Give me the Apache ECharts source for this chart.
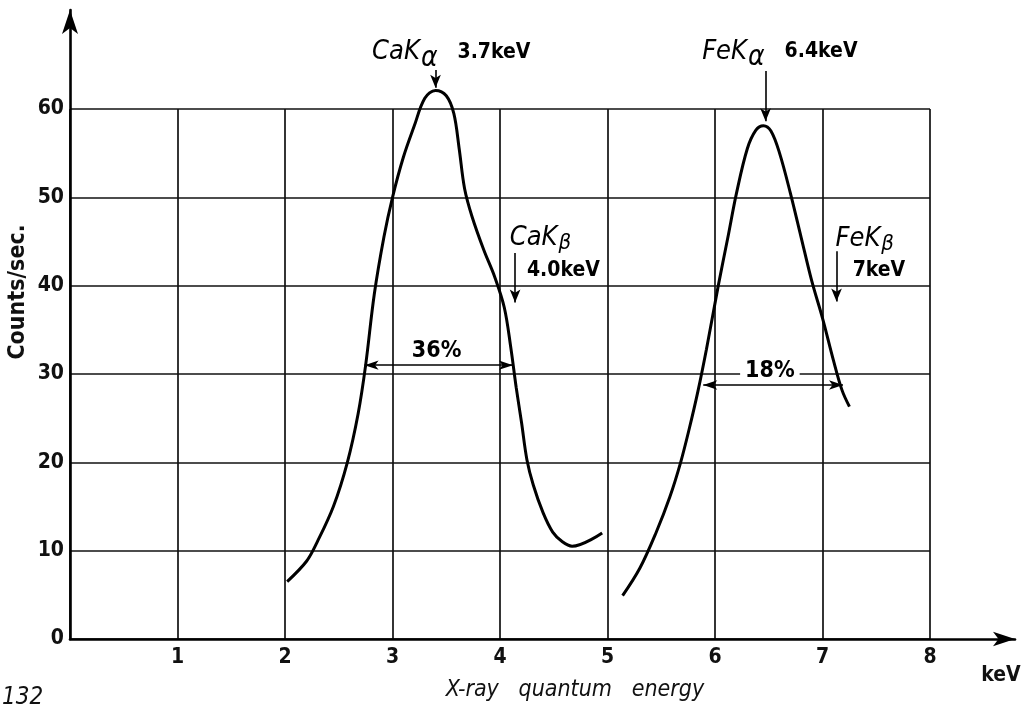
<!DOCTYPE html>
<html><head><meta charset="utf-8">
<script src="https://cdn.jsdelivr.net/npm/echarts@6/dist/echarts.min.js"></script>
<style>html,body{margin:0;padding:0;background:#fff}#c{width:1036px;height:704px}</style>
</head><body><div id="c"></div>
<script>
// ---- data ----
const caEnergy = [2.02,2.20,2.30,2.45,2.58,2.68,2.75,2.83,2.92,3.00,3.10,3.20,3.30,3.40,3.50,3.57,3.62,3.67,3.74,3.85,3.95,4.04,4.10,4.15,4.20,4.25,4.31,4.40,4.49,4.58,4.67,4.95];
const caCounts = [6.5,8.8,11.0,15.0,20.0,25.5,31.0,39.0,45.5,50.0,54.5,58.0,61.2,62.1,61.5,59.5,55.5,51.0,47.8,44.0,41.0,37.5,33.0,28.5,24.5,20.3,17.4,14.3,12.1,11.0,10.5,12.0];
const feEnergy = [5.14,5.30,5.45,5.58,5.68,5.76,5.84,5.92,6.03,6.12,6.20,6.30,6.38,6.45,6.52,6.60,6.70,6.80,6.90,7.00,7.10,7.18,7.25];
const feCounts = [4.9,8.0,12.0,16.1,20.0,23.8,28.0,32.8,40.0,45.5,50.5,55.5,57.6,58.1,57.5,55.0,50.5,45.5,40.5,36.3,31.6,28.2,26.3];
const xTickLabels = [1,2,3,4,5,6,7,8];
const yTickLabels = [0,10,20,30,40,50,60];
// line markers: energy, arrow start count, arrow end count
const lineMarkEnergy = [3.40, 6.47, 4.14, 7.13];
const lineMarkFrom = [64.4, 64.3, 43.7, 43.9];
const lineMarkTo = [62.4, 58.6, 38.1, 38.2];
// resolution (FWHM) arrows: count level, left energy, right energy
const fwhmLevel = [31.0, 28.75];
const fwhmLeft = [2.74, 5.89];
const fwhmRight = [4.12, 7.19];
const fwhmText = ['36%', '18%'];
// annotation texts and their anchor points (energy, counts)
const noteText = ['{k|CaK}{a|α}{ep|3.7keV}', '{k|FeK}{a|α}{ep|6.4keV}', '{k|CaK}{b|β}', '{e|4.0keV}', '{k|FeK}{b|β}', '{e|7keV}'];
const noteX = [2.81, 5.88, 4.09, 4.25, 7.12, 7.28];
const noteY = [66.4, 66.5, 45.4, 41.7, 45.3, 41.7];
const fwhmTextX = [3.41, 6.51];
const fwhmTextY = [32.6, 30.3];

const FONT = "'DejaVu Sans Condensed','DejaVu Sans',sans-serif";
const chart = echarts.init(document.getElementById('c'));

const noteData = noteText.map((t, i) => ({
  value: [noteX[i], noteY[i]],
  label: { show: true, position: 'right', distance: 0, formatter: t }
})).concat(fwhmText.map((t, i) => ({
  value: [fwhmTextX[i], fwhmTextY[i]],
  label: { show: true, position: 'inside', formatter: i === 1 ? '{pw|' + t + '}' : '{p|' + t + '}' }
})));

const markLines = lineMarkEnergy.map((x, i) => [
  { coord: [x, lineMarkFrom[i]], symbol: 'none' },
  { coord: [x, lineMarkTo[i]], symbol: 'arrow', symbolSize: [8, 13] }
]).concat(fwhmLevel.map((y, i) => [
  { coord: [fwhmLeft[i], y], symbol: 'arrow', symbolSize: [7, 14] },
  { coord: [fwhmRight[i], y], symbol: 'arrow', symbolSize: [7, 14] }
]));

const option = {
  animation: false,
  backgroundColor: '#fff',
  grid: [
    { left: 70, top: 109, width: 860, height: 530 },
    { left: 70, top: 10, width: 945, height: 629 }
  ],
  xAxis: [
    { gridIndex: 0, type: 'value', min: 0, max: 8, interval: 1,
      axisLine: { show: false }, axisTick: { show: false }, axisLabel: { show: false },
      splitLine: { show: true, lineStyle: { color: '#111', width: 1.7 } } },
    { gridIndex: 1, type: 'value', min: 0, max: 8.79, interval: 1,
      axisLine: { show: true, symbol: ['none', 'arrow'], symbolSize: [11, 22], lineStyle: { color: '#000', width: 2.6 } },
      axisTick: { show: false }, splitLine: { show: false },
      axisLabel: { margin: 8, color: '#111', fontFamily: FONT, fontWeight: 'bold', fontSize: 21,
        formatter: v => xTickLabels.includes(v) ? String(v) : '' } }
  ],
  yAxis: [
    { gridIndex: 0, type: 'value', min: 0, max: 60, interval: 10,
      axisLine: { show: false }, axisTick: { show: false }, axisLabel: { show: false },
      splitLine: { show: true, lineStyle: { color: '#111', width: 1.7 } } },
    { gridIndex: 1, type: 'value', min: 0, max: 71.2, interval: 10,
      axisLine: { show: true, symbol: ['none', 'arrow'], symbolSize: [12, 24], lineStyle: { color: '#000', width: 2.6 } },
      axisTick: { show: false }, splitLine: { show: false },
      axisLabel: { margin: 6, color: '#111', fontFamily: FONT, fontWeight: 'bold', fontSize: 21,
        formatter: v => yTickLabels.includes(v) ? String(v) : '' } }
  ],
  series: [
    { type: 'line', name: 'Ca', xAxisIndex: 1, yAxisIndex: 1, smooth: 0.35, showSymbol: false, silent: true,
      lineStyle: { color: '#000', width: 3 },
      data: caEnergy.map((x, i) => [x, caCounts[i]]) },
    { type: 'line', name: 'Fe', xAxisIndex: 1, yAxisIndex: 1, smooth: 0.35, showSymbol: false, silent: true,
      lineStyle: { color: '#000', width: 3 },
      data: feEnergy.map((x, i) => [x, feCounts[i]]) },
    { type: 'scatter', name: 'notes', xAxisIndex: 1, yAxisIndex: 1, symbolSize: 0, silent: true,
      itemStyle: { opacity: 1, color: '#000' },
      label: {
        show: true, color: '#000',
        rich: {
          k: { fontFamily: FONT, fontStyle: 'italic', fontSize: 27, color: '#000', lineHeight: 30 },
          a: { fontFamily: FONT, fontStyle: 'italic', fontSize: 28, color: '#000', lineHeight: 28, padding: [12, 0, 0, 1] },
          b: { fontFamily: FONT, fontStyle: 'italic', fontSize: 22, color: '#000', lineHeight: 24, padding: [10, 0, 0, 1] },
          e: { fontFamily: FONT, fontWeight: 'bold', fontSize: 21, color: '#000' },
          ep: { fontFamily: FONT, fontWeight: 'bold', fontSize: 21, color: '#000', padding: [0, 0, 0, 20] },
          p: { fontFamily: FONT, fontWeight: 'bold', fontSize: 23, color: '#000' },
          pw: { fontFamily: FONT, fontWeight: 'bold', fontSize: 23, color: '#000', backgroundColor: '#fff', padding: [0, 5, 0, 5] }
        }
      },
      markLine: {
        silent: true, animation: false,
        label: { show: false },
        lineStyle: { color: '#000', width: 1.6, type: 'solid', opacity: 1 },
        emphasis: { disabled: true },
        data: markLines
      },
      data: noteData }
  ],
  graphic: [
    { type: 'text', x: 18, y: 292, rotation: Math.PI / 2,
      style: { text: 'Counts/sec.', fontFamily: FONT, fontWeight: 'bold', fontSize: 23, fill: '#111', align: 'center', verticalAlign: 'middle' } },
    { type: 'text', x: 575, y: 690,
      style: { text: 'X-ray   quantum   energy', fontFamily: FONT, fontStyle: 'italic', fontSize: 23, fill: '#111', align: 'center', verticalAlign: 'middle' } },
    { type: 'text', x: 1001, y: 676,
      style: { text: 'keV', fontFamily: FONT, fontWeight: 'bold', fontSize: 21, fill: '#111', align: 'center', verticalAlign: 'middle' } },
    { type: 'text', x: 2, y: 686,
      style: { text: '132', fontFamily: FONT, fontStyle: 'italic', fontSize: 24, fill: '#111', align: 'left', verticalAlign: 'top' } }
  ]
};
chart.setOption(option);
</script>
</body></html>
